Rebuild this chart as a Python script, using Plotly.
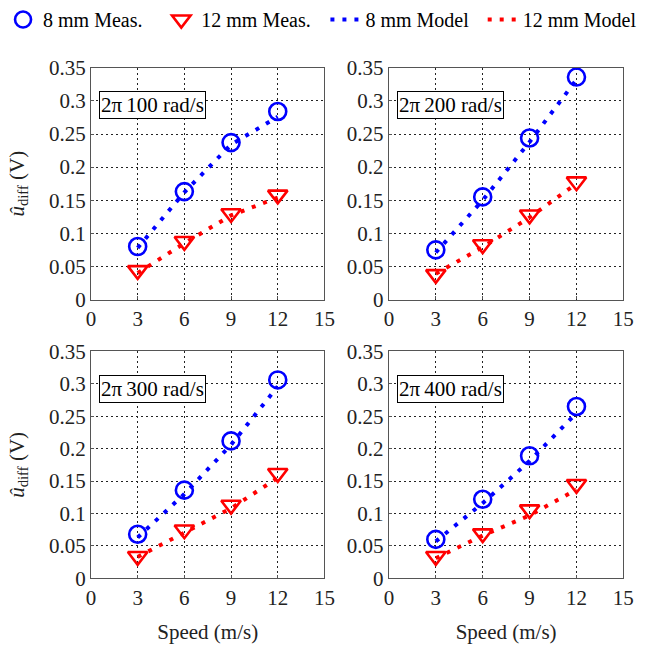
import plotly.graph_objects as go

speeds = [3, 6, 9, 12]
panel_labels = ["2π\u2009100 rad/s", "2π\u2009200 rad/s", "2π\u2009300 rad/s", "2π\u2009400 rad/s"]

meas_8mm = [
    [0.080, 0.163, 0.237, 0.284],
    [0.075, 0.155, 0.244, 0.336],
    [0.068, 0.136, 0.212, 0.306],
    [0.060, 0.122, 0.189, 0.265],
]
meas_12mm = [
    [0.044, 0.088, 0.130, 0.158],
    [0.038, 0.083, 0.128, 0.178],
    [0.034, 0.075, 0.113, 0.162],
    [0.034, 0.069, 0.106, 0.145],
]
model_8mm = [
    [0.078, 0.162, 0.234, 0.276],
    [0.071, 0.150, 0.238, 0.332],
    [0.063, 0.130, 0.206, 0.296],
    [0.057, 0.116, 0.181, 0.255],
]
model_12mm = [
    [0.040, 0.085, 0.127, 0.154],
    [0.039, 0.079, 0.124, 0.175],
    [0.033, 0.070, 0.108, 0.155],
    [0.031, 0.066, 0.097, 0.137],
]

x_ticks = [0, 3, 6, 9, 12, 15]
y_ticks = [0, 0.05, 0.1, 0.15, 0.2, 0.25, 0.3, 0.35]
y_ticktext = ["0", "0.05", "0.1", "0.15", "0.2", "0.25", "0.3", "0.35"]

W, H = 649, 648
FONT = "Liberation Serif"
FS = 21
BLUE = "#0000FF"
RED = "#FF0000"

# pixel boxes of the four panels: (left, right, top, bottom)
boxes = [(88, 327, 57, 298), (393, 633, 57, 298), (88, 327, 352, 588), (393, 633, 352, 588)]
# legend entry left edges (px)
legend_x_px = [-2, 160, 328, 489]

fig = go.Figure()
layout = dict(
    width=W, height=H,
    margin=dict(l=0, r=0, t=0, b=0),
    paper_bgcolor="white", plot_bgcolor="white",
    font=dict(family=FONT, size=FS, color="#222"),
    showlegend=True,
)
legend_names = ["legend", "legend2", "legend3", "legend4"]
for k, lx in enumerate(legend_x_px):
    layout[legend_names[k]] = dict(
        orientation="h", x=lx / W, y=1.021, xanchor="left", yanchor="top",
        font=dict(family=FONT, size=20, color="black"),
        bgcolor="rgba(0,0,0,0)")

annotations = []
for i in range(4):
    n = i + 1
    xa = "x" if n == 1 else f"x{n}"
    ya = "y" if n == 1 else f"y{n}"
    first = (i == 0)
    fig.add_trace(go.Scatter(
        x=speeds, y=meas_8mm[i], mode="markers", name="8 mm Meas.",
        legendgroup="m8", showlegend=first, legend="legend",
        marker=dict(symbol="circle-open", size=17, color=BLUE, line=dict(width=2.6, color=BLUE)),
        xaxis=xa, yaxis=ya))
    fig.add_trace(go.Scatter(
        x=speeds, y=meas_12mm[i], mode="markers", name="12 mm Meas.",
        legendgroup="m12", showlegend=first, legend="legend2",
        marker=dict(symbol="triangle-down-open", size=17, color=RED, line=dict(width=2.6, color=RED)),
        xaxis=xa, yaxis=ya))
    fig.add_trace(go.Scatter(
        x=speeds, y=model_8mm[i], mode="lines", name="8 mm Model",
        legendgroup="p8", showlegend=first, legend="legend3",
        line=dict(color=BLUE, width=4, dash="4px,8px"),
        xaxis=xa, yaxis=ya))
    fig.add_trace(go.Scatter(
        x=speeds, y=model_12mm[i], mode="lines", name="12 mm Model",
        legendgroup="p12", showlegend=first, legend="legend4",
        line=dict(color=RED, width=4, dash="4px,8px"),
        xaxis=xa, yaxis=ya))

    l, r, t, b = boxes[i]
    xdom = [l / W, r / W]
    ydom = [1 - b / H, 1 - t / H]
    bottom_row = i >= 2
    left_col = i % 2 == 0
    xkey = "xaxis" if n == 1 else f"xaxis{n}"
    ykey = "yaxis" if n == 1 else f"yaxis{n}"
    layout[xkey] = dict(
        domain=xdom, anchor=ya, range=[0, 15], tickvals=x_ticks,
        showgrid=True, gridcolor="#222", griddash="2px,3px", gridwidth=1,
        zeroline=False, showline=True, linecolor="#555", linewidth=1.2, mirror=True,
        ticks="inside", ticklen=3, tickcolor="#555",
        tickfont=dict(family=FONT, size=FS, color="#222"),
        title=dict(text="Speed (m/s)" if bottom_row else "", font=dict(family=FONT, size=FS, color="#222"), standoff=15),
    )
    layout[ykey] = dict(
        domain=ydom, anchor=xa, range=[0, 0.35], tickvals=y_ticks, ticktext=y_ticktext,
        showgrid=True, gridcolor="#222", griddash="2px,3px", gridwidth=1,
        zeroline=False, showline=True, linecolor="#555", linewidth=1.2, mirror=True,
        ticks="inside", ticklen=3, tickcolor="#555",
        tickfont=dict(family=FONT, size=FS, color="#222"),
        title=dict(text="<i>û</i><sub>diff</sub> (V)" if left_col else "",
                   font=dict(family=FONT, size=FS, color="#222"), standoff=18),
    )
    annotations.append(dict(
        xref=f"{xa} domain", yref=f"{ya} domain", x=0.033, y=0.898,
        xanchor="left", yanchor="top", text=panel_labels[i], showarrow=False,
        font=dict(family=FONT, size=FS, color="black"),
        bgcolor="white", bordercolor="black", borderwidth=1, borderpad=1))

layout["annotations"] = annotations
fig.update_layout(**layout)
fig.write_html("out.html")
